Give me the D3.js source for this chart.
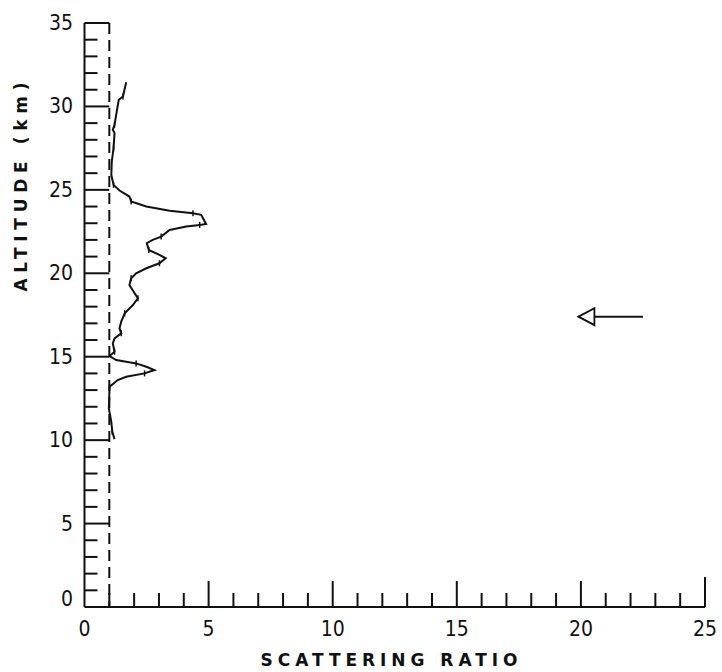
<!DOCTYPE html>
<html><head><meta charset="utf-8">
<script src="https://cdn.jsdelivr.net/npm/d3@7/dist/d3.min.js"></script>
<style>body{margin:0;background:#fff}svg{display:block}</style>
</head><body>
<script>
// Data: scattering ratio profile (altitude km, ratio)
const altitude = [31.45,30.6,30.4,29.7,28.9,28.6,28.4,27.5,26.7,25.9,25.3,24.96,24.6,24.3,24.0,23.75,23.6,23.5,22.95,22.9,22.8,22.6,22.2,22.0,21.8,21.4,21.1,20.9,20.6,20.3,20.0,19.7,19.3,18.8,18.5,18.1,17.8,17.6,17.1,16.7,16.4,16.1,15.8,15.3,15.04,14.8,14.6,14.4,14.2,14.0,13.8,13.6,13.2,11.9,11.1,10.5,10.06];
const ratio    = [1.68,1.55,1.38,1.30,1.21,1.14,1.21,1.17,1.10,1.08,1.17,1.41,1.81,1.88,2.49,3.43,4.37,4.70,4.90,4.64,4.10,3.43,3.09,2.75,2.51,2.59,3.02,3.27,3.02,2.49,2.08,1.88,1.81,2.02,2.15,1.95,1.75,1.62,1.48,1.41,1.48,1.21,1.14,1.21,1.01,1.28,2.08,2.49,2.82,2.42,1.68,1.34,1.01,0.98,1.08,1.12,1.21];
const xTickLabels = [0,5,10,15,20,25];
const yTickLabels = [0,5,10,15,20,25,30,35];
const referenceRatio = 1;
const arrowAltitude = 17.4;
const arrowRatio = [19.9, 22.5];

const W = 722, H = 672;
const svg = d3.select("body").append("svg").attr("width", W).attr("height", H);
const x = d3.scaleLinear().domain([0,25]).range([84.5,705]);
const y = d3.scaleLinear().domain([0,35]).range([607,23]);
const font = "'Liberation Sans Narrow','DejaVu Sans Condensed',sans-serif";
const titleFont = "'DejaVu Sans','Liberation Sans',sans-serif";

// axes lines
const g = svg.append("g").attr("stroke","#111").attr("fill","none").attr("stroke-width",2);
g.append("line").attr("x1",x(0)).attr("x2",x(25)).attr("y1",y(0)).attr("y2",y(0));
g.append("line").attr("x1",x(0)).attr("x2",x(0)).attr("y1",y(0)).attr("y2",y(35));

// y ticks
d3.range(1,36).forEach(k=>{
  const major = k%5===0;
  g.append("line").attr("x1",x(0)).attr("x2", major ? x(referenceRatio) : x(0)+13)
    .attr("y1",y(k)).attr("y2",y(k));
});
// x ticks
d3.range(1,26).forEach(k=>{
  const major = k%5===0;
  g.append("line").attr("x1",x(k)).attr("x2",x(k))
    .attr("y1",y(0)).attr("y2", y(0) - (major ? (k===25?30:26) : 14));
});

// dashed reference line
g.append("line").attr("x1",x(referenceRatio)).attr("x2",x(referenceRatio))
  .attr("y1",y(35)).attr("y2",y(0)).attr("stroke-dasharray","11,6");

// labels
svg.selectAll(".xl").data(xTickLabels).join("text")
  .attr("x",d=>x(d)).attr("y",y(0)+29).attr("text-anchor","middle")
  .attr("font-family",font).attr("font-size",21).attr("fill","#111").text(d=>d);
svg.selectAll(".yl").data(yTickLabels).join("text")
  .attr("x",73).attr("y",d=>y(d)+ (d===0 ? -1 : 7)).attr("text-anchor","end")
  .attr("font-family",font).attr("font-size",21).attr("fill","#111").text(d=>d);

svg.append("text").attr("x",389).attr("y",666).attr("text-anchor","middle")
  .attr("font-family",titleFont).attr("font-weight","bold")
  .attr("font-size",17).attr("textLength",257).attr("lengthAdjust","spacing")
  .attr("fill","#111").text("SCATTERING RATIO");
svg.append("text").attr("transform","translate(27,187) rotate(-90)").attr("text-anchor","middle")
  .attr("font-family",titleFont).attr("font-weight","bold")
  .attr("font-size",17).attr("textLength",209).attr("lengthAdjust","spacing")
  .attr("fill","#111").text("ALTITUDE (km)");

// profile curve
const pts = altitude.map((a,i)=>[ratio[i],a]);
svg.append("path").datum(pts)
  .attr("d", d3.line().x(d=>x(d[0])).y(d=>y(d[1])))
  .attr("fill","none").attr("stroke","#111").attr("stroke-width",2);

// small error ticks
svg.append("g").selectAll("line").data(pts.filter((d,i)=>i%3===1)).join("line")
  .attr("x1",d=>x(d[0])).attr("x2",d=>x(d[0])).attr("y1",d=>y(d[1])-3).attr("y2",d=>y(d[1])+3)
  .attr("stroke","#111").attr("stroke-width",1.5);

// arrow
const ay = y(arrowAltitude);
const tip = x(arrowRatio[0]);
svg.append("path").attr("d",`M${tip},${ay} L${tip+16},${ay-8.5} L${tip+16},${ay+8.5} Z`)
  .attr("fill","none").attr("stroke","#111").attr("stroke-width",1.8);
svg.append("line").attr("x1",tip+16).attr("x2",x(arrowRatio[1])).attr("y1",ay).attr("y2",ay)
  .attr("stroke","#111").attr("stroke-width",2);
</script>
</body></html>
